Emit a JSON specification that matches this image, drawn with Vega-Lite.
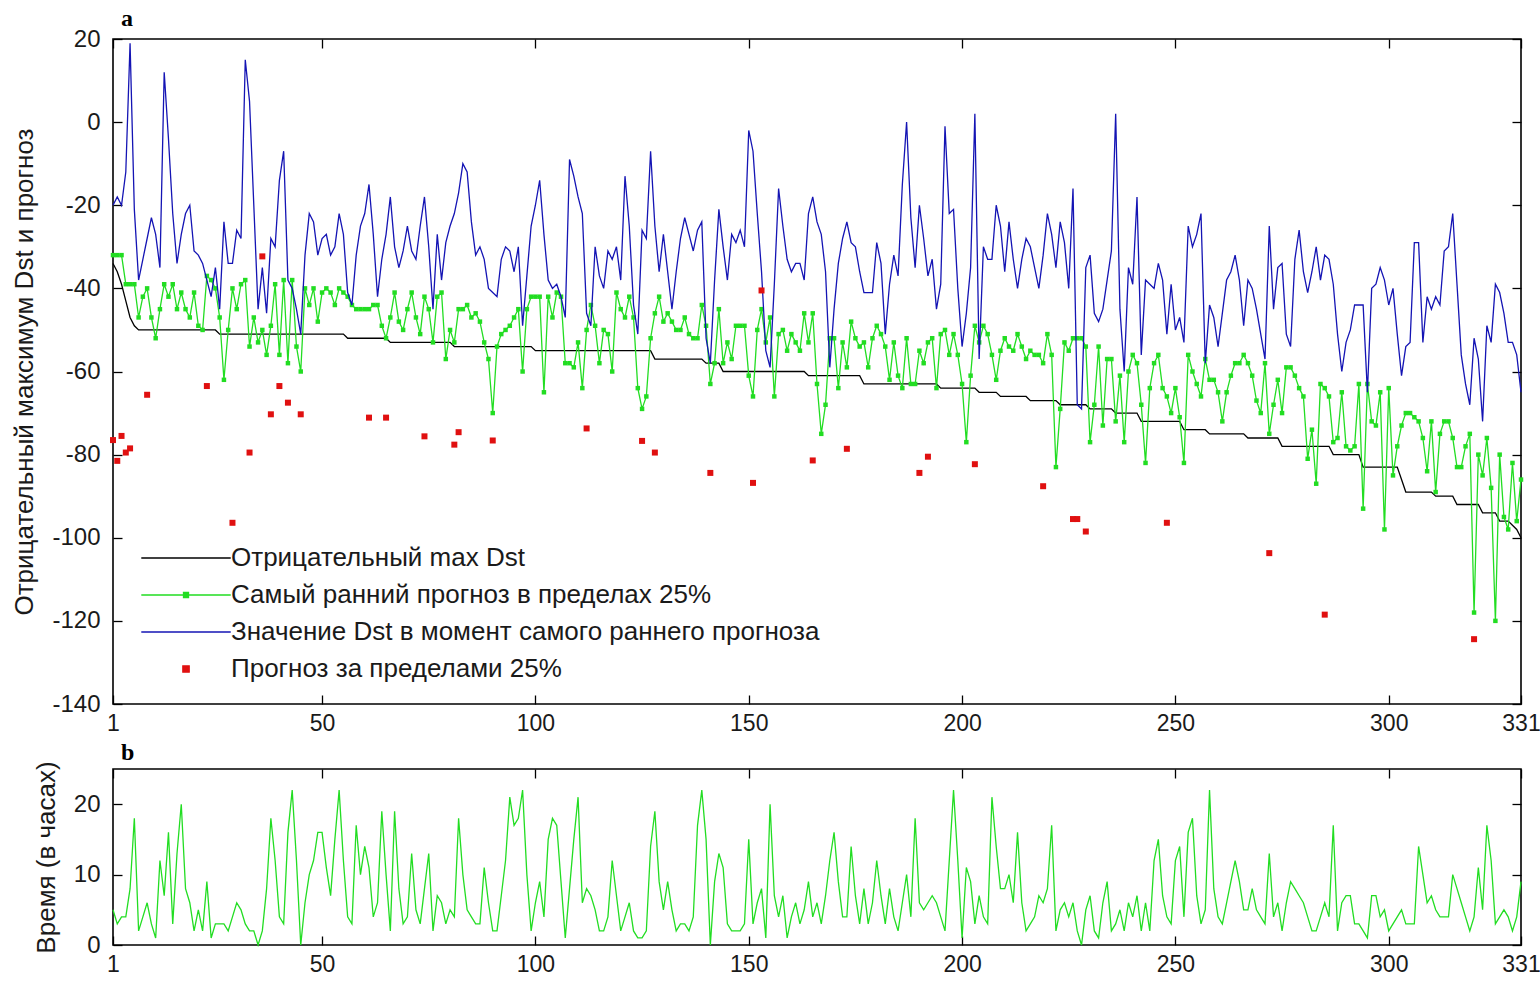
{
"$schema": "https://vega.github.io/schema/vega-lite/v6.json",
"background": "#ffffff",
"padding": {"left": 11, "top": 6, "right": 10, "bottom": 0},
"spacing": 4,
"resolve": {"scale": {"color": "independent"}, "legend": {"color": "independent"}},
"config": {
  "font": "Liberation Sans",
  "view": {"stroke": "#000000", "strokeWidth": 1.6},
  "axis": {"grid": false, "domain": false, "ticks": true, "tickSize": -9, "tickColor": "#000000", "tickWidth": 1.3, "labelFont": "Liberation Sans", "labelFontSize": 24, "labelColor": "#1a1a1a", "labelPadding": 22, "labelFlush": false, "labelOverlap": false, "titleFont": "Liberation Sans", "titleFontSize": 26, "titleFontWeight": "normal", "titleColor": "#1a1a1a", "titlePadding": 14},
  "axisX": {"labelPadding": 17, "labelFontSize": 23},
  "title": {"font": "Liberation Serif", "fontSize": 24, "fontWeight": "bold", "anchor": "start", "frame": "group", "offset": -4, "color": "#000000"}
},
"datasets": {
"main": [
{"i":1,"k":-34,"g":-32,"b":-20,"h":5},{"i":2,"k":-36,"g":-32,"b":-18,"h":3},{"i":3,"k":-39,"g":-32,"b":-20,"h":4},{"i":4,"k":-43,"g":-39,"b":-12,"h":4},{"i":5,"k":-47,"g":-39,"b":19,"h":8},{"i":6,"k":-49,"g":-39,"b":-21,"h":18},{"i":7,"k":-50,"g":-47,"b":-38,"h":2},{"i":8,"k":-50,"g":-42,"b":-33,"h":4},{"i":9,"k":-50,"g":-40,"b":-28,"h":6},{"i":10,"k":-50,"g":-47,"b":-23,"h":3},
{"i":11,"k":-50,"g":-52,"b":-27,"h":1},{"i":12,"k":-50,"g":-45,"b":-35,"h":12},{"i":13,"k":-50,"g":-39,"b":12,"h":7},{"i":14,"k":-50,"g":-42,"b":-4,"h":16},{"i":15,"k":-50,"g":-39,"b":-22,"h":3},{"i":16,"k":-50,"g":-45,"b":-34,"h":13},{"i":17,"k":-50,"g":-41,"b":-27,"h":20},{"i":18,"k":-50,"g":-45,"b":-22,"h":8},{"i":19,"k":-50,"g":-47,"b":-20,"h":6},{"i":20,"k":-50,"g":-41,"b":-31,"h":2},
{"i":21,"k":-50,"g":-49,"b":-32,"h":5},{"i":22,"k":-50,"g":-50,"b":-34,"h":2},{"i":23,"k":-50,"g":-37,"b":-38,"h":9},{"i":24,"k":-50,"g":-38,"b":-42,"h":1},{"i":25,"k":-50,"g":-40,"b":-35,"h":3},{"i":26,"k":-51,"g":-47,"b":-45,"h":3},{"i":27,"k":-51,"g":-62,"b":-24,"h":3},{"i":28,"k":-51,"g":-50,"b":-34,"h":2},{"i":29,"k":-51,"g":-40,"b":-34,"h":4},{"i":30,"k":-51,"g":-45,"b":-26,"h":6},
{"i":31,"k":-51,"g":-39,"b":-28,"h":5},{"i":32,"k":-51,"g":-38,"b":15,"h":3},{"i":33,"k":-51,"g":-54,"b":5,"h":2},{"i":34,"k":-51,"g":-47,"b":-20,"h":2},{"i":35,"k":-51,"g":-53,"b":-45,"h":0},{"i":36,"k":-51,"g":-50,"b":-35,"h":2},{"i":37,"k":-51,"g":-56,"b":-46,"h":8},{"i":38,"k":-51,"g":-49,"b":-28,"h":18},{"i":39,"k":-51,"g":-39,"b":-30,"h":12},{"i":40,"k":-51,"g":-56,"b":-14,"h":4},
{"i":41,"k":-51,"g":-38,"b":-7,"h":3},{"i":42,"k":-51,"g":-58,"b":-38,"h":16},{"i":43,"k":-51,"g":-38,"b":-40,"h":22},{"i":44,"k":-51,"g":-54,"b":-45,"h":12},{"i":45,"k":-51,"g":-60,"b":-51,"h":0},{"i":46,"k":-51,"g":-40,"b":-32,"h":6},{"i":47,"k":-51,"g":-44,"b":-22,"h":10},{"i":48,"k":-51,"g":-40,"b":-24,"h":12},{"i":49,"k":-51,"g":-48,"b":-32,"h":16},{"i":50,"k":-51,"g":-41,"b":-28,"h":16},
{"i":51,"k":-51,"g":-40,"b":-27,"h":11},{"i":52,"k":-51,"g":-41,"b":-32,"h":7},{"i":53,"k":-51,"g":-44,"b":-30,"h":15},{"i":54,"k":-51,"g":-40,"b":-22,"h":22},{"i":55,"k":-51,"g":-41,"b":-27,"h":12},{"i":56,"k":-52,"g":-42,"b":-41,"h":4},{"i":57,"k":-52,"g":-44,"b":-44,"h":3},{"i":58,"k":-52,"g":-45,"b":-32,"h":17},{"i":59,"k":-52,"g":-45,"b":-25,"h":10},{"i":60,"k":-52,"g":-45,"b":-22,"h":14},
{"i":61,"k":-52,"g":-45,"b":-15,"h":11},{"i":62,"k":-52,"g":-44,"b":-27,"h":4},{"i":63,"k":-52,"g":-44,"b":-42,"h":6},{"i":64,"k":-52,"g":-49,"b":-33,"h":19},{"i":65,"k":-52,"g":-52,"b":-27,"h":10},{"i":66,"k":-53,"g":-47,"b":-18,"h":2},{"i":67,"k":-53,"g":-41,"b":-30,"h":19},{"i":68,"k":-53,"g":-48,"b":-35,"h":8},{"i":69,"k":-53,"g":-50,"b":-31,"h":3},{"i":70,"k":-53,"g":-45,"b":-25,"h":4},
{"i":71,"k":-53,"g":-41,"b":-31,"h":13},{"i":72,"k":-53,"g":-47,"b":-33,"h":5},{"i":73,"k":-53,"g":-51,"b":-25,"h":3},{"i":74,"k":-53,"g":-42,"b":-18,"h":8},{"i":75,"k":-53,"g":-45,"b":-30,"h":13},{"i":76,"k":-53,"g":-53,"b":-45,"h":2},{"i":77,"k":-53,"g":-42,"b":-27,"h":7},{"i":78,"k":-53,"g":-41,"b":-38,"h":6},{"i":79,"k":-53,"g":-57,"b":-29,"h":3},{"i":80,"k":-53,"g":-50,"b":-25,"h":5},
{"i":81,"k":-54,"g":-53,"b":-22,"h":4},{"i":82,"k":-54,"g":-45,"b":-17,"h":18},{"i":83,"k":-54,"g":-45,"b":-10,"h":10},{"i":84,"k":-54,"g":-44,"b":-12,"h":5},{"i":85,"k":-54,"g":-47,"b":-24,"h":4},{"i":86,"k":-54,"g":-46,"b":-32,"h":3},{"i":87,"k":-54,"g":-48,"b":-30,"h":3},{"i":88,"k":-54,"g":-53,"b":-33,"h":11},{"i":89,"k":-54,"g":-57,"b":-40,"h":6},{"i":90,"k":-54,"g":-70,"b":-41,"h":2},
{"i":91,"k":-54,"g":-54,"b":-42,"h":2},{"i":92,"k":-54,"g":-51,"b":-33,"h":7},{"i":93,"k":-54,"g":-50,"b":-30,"h":12},{"i":94,"k":-54,"g":-49,"b":-31,"h":21},{"i":95,"k":-54,"g":-47,"b":-36,"h":17},{"i":96,"k":-54,"g":-45,"b":-30,"h":18},{"i":97,"k":-54,"g":-60,"b":-49,"h":22},{"i":98,"k":-54,"g":-45,"b":-37,"h":10},{"i":99,"k":-54,"g":-42,"b":-25,"h":2},{"i":100,"k":-55,"g":-42,"b":-20,"h":6},
{"i":101,"k":-55,"g":-42,"b":-14,"h":9},{"i":102,"k":-55,"g":-65,"b":-27,"h":4},{"i":103,"k":-55,"g":-42,"b":-38,"h":15},{"i":104,"k":-55,"g":-47,"b":-40,"h":18},{"i":105,"k":-55,"g":-41,"b":-39,"h":17},{"i":106,"k":-55,"g":-42,"b":-42,"h":9},{"i":107,"k":-55,"g":-58,"b":-47,"h":1},{"i":108,"k":-55,"g":-58,"b":-9,"h":8},{"i":109,"k":-55,"g":-59,"b":-13,"h":15},{"i":110,"k":-55,"g":-53,"b":-18,"h":21},
{"i":111,"k":-55,"g":-64,"b":-22,"h":6},{"i":112,"k":-55,"g":-50,"b":-46,"h":8},{"i":113,"k":-55,"g":-44,"b":-49,"h":7},{"i":114,"k":-55,"g":-49,"b":-30,"h":5},{"i":115,"k":-55,"g":-58,"b":-37,"h":2},{"i":116,"k":-55,"g":-50,"b":-40,"h":2},{"i":117,"k":-55,"g":-51,"b":-31,"h":4},{"i":118,"k":-55,"g":-60,"b":-33,"h":12},{"i":119,"k":-55,"g":-41,"b":-30,"h":7},{"i":120,"k":-55,"g":-45,"b":-38,"h":2},
{"i":121,"k":-55,"g":-47,"b":-13,"h":4},{"i":122,"k":-55,"g":-42,"b":-25,"h":6},{"i":123,"k":-55,"g":-47,"b":-44,"h":2},{"i":124,"k":-55,"g":-64,"b":-51,"h":1},{"i":125,"k":-55,"g":-69,"b":-26,"h":1},{"i":126,"k":-55,"g":-66,"b":-28,"h":2},{"i":127,"k":-55,"g":-52,"b":-7,"h":14},{"i":128,"k":-57,"g":-46,"b":-25,"h":19},{"i":129,"k":-57,"g":-42,"b":-36,"h":9},{"i":130,"k":-57,"g":-48,"b":-27,"h":5},
{"i":131,"k":-57,"g":-46,"b":-36,"h":9},{"i":132,"k":-57,"g":-48,"b":-45,"h":5},{"i":133,"k":-57,"g":-50,"b":-36,"h":2},{"i":134,"k":-57,"g":-50,"b":-28,"h":3},{"i":135,"k":-57,"g":-47,"b":-23,"h":3},{"i":136,"k":-57,"g":-51,"b":-27,"h":2},{"i":137,"k":-57,"g":-52,"b":-31,"h":4},{"i":138,"k":-57,"g":-52,"b":-26,"h":17},{"i":139,"k":-57,"g":-44,"b":-24,"h":22},{"i":140,"k":-58,"g":-49,"b":-52,"h":15},
{"i":141,"k":-58,"g":-63,"b":-58,"h":0},{"i":142,"k":-58,"g":-58,"b":-38,"h":9},{"i":143,"k":-58,"g":-45,"b":-21,"h":13},{"i":144,"k":-60,"g":-58,"b":-30,"h":11},{"i":145,"k":-60,"g":-53,"b":-38,"h":3},{"i":146,"k":-60,"g":-57,"b":-27,"h":2},{"i":147,"k":-60,"g":-49,"b":-29,"h":2},{"i":148,"k":-60,"g":-49,"b":-26,"h":2},{"i":149,"k":-60,"g":-49,"b":-30,"h":3},{"i":150,"k":-60,"g":-61,"b":-2,"h":15},
{"i":151,"k":-60,"g":-66,"b":-7,"h":3},{"i":152,"k":-60,"g":-50,"b":-22,"h":6},{"i":153,"k":-60,"g":-45,"b":-36,"h":8},{"i":154,"k":-60,"g":-53,"b":-55,"h":1},{"i":155,"k":-60,"g":-47,"b":-59,"h":20},{"i":156,"k":-60,"g":-66,"b":-39,"h":7},{"i":157,"k":-60,"g":-51,"b":-16,"h":4},{"i":158,"k":-60,"g":-50,"b":-25,"h":7},{"i":159,"k":-60,"g":-55,"b":-33,"h":1},{"i":160,"k":-60,"g":-51,"b":-36,"h":4},
{"i":161,"k":-60,"g":-53,"b":-34,"h":6},{"i":162,"k":-60,"g":-55,"b":-34,"h":3},{"i":163,"k":-60,"g":-46,"b":-38,"h":5},{"i":164,"k":-61,"g":-53,"b":-22,"h":9},{"i":165,"k":-61,"g":-46,"b":-18,"h":4},{"i":166,"k":-61,"g":-63,"b":-24,"h":6},{"i":167,"k":-61,"g":-75,"b":-27,"h":3},{"i":168,"k":-61,"g":-68,"b":-36,"h":7},{"i":169,"k":-61,"g":-52,"b":-59,"h":12},{"i":170,"k":-61,"g":-52,"b":-45,"h":16},
{"i":171,"k":-61,"g":-64,"b":-34,"h":9},{"i":172,"k":-61,"g":-53,"b":-28,"h":4},{"i":173,"k":-61,"g":-59,"b":-24,"h":4},{"i":174,"k":-61,"g":-48,"b":-29,"h":14},{"i":175,"k":-61,"g":-52,"b":-30,"h":7},{"i":176,"k":-61,"g":-54,"b":-36,"h":3},{"i":177,"k":-63,"g":-53,"b":-41,"h":8},{"i":178,"k":-63,"g":-59,"b":-41,"h":3},{"i":179,"k":-63,"g":-52,"b":-41,"h":6},{"i":180,"k":-63,"g":-49,"b":-29,"h":12},
{"i":181,"k":-63,"g":-51,"b":-34,"h":7},{"i":182,"k":-63,"g":-54,"b":-51,"h":3},{"i":183,"k":-63,"g":-62,"b":-39,"h":8},{"i":184,"k":-63,"g":-53,"b":-32,"h":4},{"i":185,"k":-63,"g":-61,"b":-37,"h":2},{"i":186,"k":-63,"g":-64,"b":-15,"h":6},{"i":187,"k":-63,"g":-52,"b":0,"h":10},{"i":188,"k":-63,"g":-63,"b":-23,"h":4},{"i":189,"k":-63,"g":-63,"b":-35,"h":18},{"i":190,"k":-63,"g":-55,"b":-20,"h":6},
{"i":191,"k":-63,"g":-58,"b":-28,"h":5},{"i":192,"k":-63,"g":-53,"b":-37,"h":6},{"i":193,"k":-63,"g":-52,"b":-33,"h":7},{"i":194,"k":-63,"g":-64,"b":-45,"h":6},{"i":195,"k":-64,"g":-51,"b":-39,"h":4},{"i":196,"k":-64,"g":-50,"b":-1,"h":2},{"i":197,"k":-64,"g":-56,"b":-22,"h":12},{"i":198,"k":-64,"g":-51,"b":-21,"h":22},{"i":199,"k":-64,"g":-56,"b":-40,"h":12},{"i":200,"k":-64,"g":-63,"b":-54,"h":1},
{"i":201,"k":-64,"g":-77,"b":-46,"h":11},{"i":202,"k":-64,"g":-61,"b":-35,"h":9},{"i":203,"k":-64,"g":-49,"b":2,"h":3},{"i":204,"k":-65,"g":-53,"b":-57,"h":7},{"i":205,"k":-65,"g":-49,"b":-30,"h":4},{"i":206,"k":-65,"g":-51,"b":-33,"h":3},{"i":207,"k":-65,"g":-56,"b":-33,"h":21},{"i":208,"k":-65,"g":-62,"b":-20,"h":14},{"i":209,"k":-66,"g":-55,"b":-25,"h":8},{"i":210,"k":-66,"g":-52,"b":-36,"h":8},
{"i":211,"k":-66,"g":-54,"b":-24,"h":10},{"i":212,"k":-66,"g":-55,"b":-33,"h":6},{"i":213,"k":-66,"g":-51,"b":-40,"h":16},{"i":214,"k":-66,"g":-54,"b":-33,"h":6},{"i":215,"k":-66,"g":-57,"b":-28,"h":2},{"i":216,"k":-67,"g":-55,"b":-30,"h":3},{"i":217,"k":-67,"g":-56,"b":-35,"h":4},{"i":218,"k":-67,"g":-56,"b":-40,"h":7},{"i":219,"k":-67,"g":-58,"b":-32,"h":6},{"i":220,"k":-67,"g":-51,"b":-22,"h":8},
{"i":221,"k":-67,"g":-56,"b":-27,"h":17},{"i":222,"k":-67,"g":-83,"b":-35,"h":2},{"i":223,"k":-68,"g":-69,"b":-24,"h":5},{"i":224,"k":-68,"g":-53,"b":-29,"h":6},{"i":225,"k":-68,"g":-55,"b":-40,"h":4},{"i":226,"k":-68,"g":-52,"b":-16,"h":6},{"i":227,"k":-68,"g":-52,"b":-68,"h":2},{"i":228,"k":-68,"g":-52,"b":-69,"h":0},{"i":229,"k":-68,"g":-54,"b":-35,"h":5},{"i":230,"k":-69,"g":-77,"b":-32,"h":7},
{"i":231,"k":-69,"g":-68,"b":-46,"h":2},{"i":232,"k":-69,"g":-54,"b":-48,"h":1},{"i":233,"k":-69,"g":-73,"b":-45,"h":6},{"i":234,"k":-69,"g":-57,"b":-38,"h":9},{"i":235,"k":-69,"g":-57,"b":-31,"h":2},{"i":236,"k":-70,"g":-72,"b":2,"h":3},{"i":237,"k":-70,"g":-61,"b":-45,"h":5},{"i":238,"k":-70,"g":-77,"b":-60,"h":2},{"i":239,"k":-70,"g":-60,"b":-35,"h":6},{"i":240,"k":-70,"g":-56,"b":-39,"h":4},
{"i":241,"k":-70,"g":-58,"b":-18,"h":7},{"i":242,"k":-72,"g":-68,"b":-56,"h":2},{"i":243,"k":-72,"g":-82,"b":-38,"h":6},{"i":244,"k":-72,"g":-64,"b":-39,"h":2},{"i":245,"k":-72,"g":-58,"b":-40,"h":12},{"i":246,"k":-72,"g":-56,"b":-34,"h":15},{"i":247,"k":-72,"g":-64,"b":-38,"h":7},{"i":248,"k":-72,"g":-66,"b":-51,"h":4},{"i":249,"k":-72,"g":-70,"b":-39,"h":3},{"i":250,"k":-72,"g":-64,"b":-50,"h":12},
{"i":251,"k":-72,"g":-71,"b":-47,"h":14},{"i":252,"k":-74,"g":-82,"b":-53,"h":4},{"i":253,"k":-74,"g":-56,"b":-25,"h":16},{"i":254,"k":-74,"g":-60,"b":-30,"h":18},{"i":255,"k":-74,"g":-63,"b":-27,"h":7},{"i":256,"k":-74,"g":-66,"b":-22,"h":3},{"i":257,"k":-74,"g":-57,"b":-58,"h":5},{"i":258,"k":-75,"g":-62,"b":-44,"h":22},{"i":259,"k":-75,"g":-62,"b":-47,"h":8},{"i":260,"k":-75,"g":-65,"b":-54,"h":4},
{"i":261,"k":-75,"g":-72,"b":-46,"h":3},{"i":262,"k":-75,"g":-65,"b":-38,"h":6},{"i":263,"k":-75,"g":-61,"b":-36,"h":9},{"i":264,"k":-75,"g":-58,"b":-32,"h":12},{"i":265,"k":-75,"g":-58,"b":-38,"h":9},{"i":266,"k":-75,"g":-56,"b":-49,"h":5},{"i":267,"k":-76,"g":-58,"b":-38,"h":5},{"i":268,"k":-76,"g":-61,"b":-40,"h":8},{"i":269,"k":-76,"g":-67,"b":-45,"h":5},{"i":270,"k":-76,"g":-70,"b":-51,"h":4},
{"i":271,"k":-76,"g":-58,"b":-57,"h":3},{"i":272,"k":-76,"g":-75,"b":-25,"h":13},{"i":273,"k":-76,"g":-68,"b":-45,"h":4},{"i":274,"k":-76,"g":-62,"b":-35,"h":6},{"i":275,"k":-78,"g":-70,"b":-34,"h":2},{"i":276,"k":-78,"g":-59,"b":-51,"h":6},{"i":277,"k":-78,"g":-59,"b":-54,"h":9},{"i":278,"k":-78,"g":-61,"b":-33,"h":8},{"i":279,"k":-78,"g":-64,"b":-26,"h":7},{"i":280,"k":-78,"g":-66,"b":-36,"h":6},
{"i":281,"k":-78,"g":-81,"b":-41,"h":4},{"i":282,"k":-78,"g":-74,"b":-36,"h":2},{"i":283,"k":-78,"g":-87,"b":-30,"h":2},{"i":284,"k":-78,"g":-63,"b":-38,"h":4},{"i":285,"k":-78,"g":-64,"b":-32,"h":6},{"i":286,"k":-78,"g":-66,"b":-33,"h":4},{"i":287,"k":-80,"g":-77,"b":-39,"h":17},{"i":288,"k":-80,"g":-76,"b":-51,"h":2},{"i":289,"k":-80,"g":-65,"b":-60,"h":6},{"i":290,"k":-80,"g":-78,"b":-53,"h":7},
{"i":291,"k":-80,"g":-79,"b":-50,"h":7},{"i":292,"k":-80,"g":-78,"b":-44,"h":3},{"i":293,"k":-80,"g":-63,"b":-44,"h":3},{"i":294,"k":-83,"g":-93,"b":-44,"h":2},{"i":295,"k":-83,"g":-63,"b":-65,"h":1},{"i":296,"k":-83,"g":-72,"b":-40,"h":7},{"i":297,"k":-83,"g":-73,"b":-39,"h":7},{"i":298,"k":-83,"g":-65,"b":-35,"h":4},{"i":299,"k":-83,"g":-98,"b":-38,"h":5},{"i":300,"k":-83,"g":-64,"b":-44,"h":2},
{"i":301,"k":-83,"g":-85,"b":-40,"h":3},{"i":302,"k":-83,"g":-78,"b":-51,"h":4},{"i":303,"k":-86,"g":-73,"b":-61,"h":5},{"i":304,"k":-89,"g":-70,"b":-54,"h":3},{"i":305,"k":-89,"g":-70,"b":-53,"h":3},{"i":306,"k":-89,"g":-71,"b":-29,"h":3},{"i":307,"k":-89,"g":-72,"b":-29,"h":14},{"i":308,"k":-89,"g":-76,"b":-53,"h":10},{"i":309,"k":-89,"g":-84,"b":-42,"h":6},{"i":310,"k":-89,"g":-72,"b":-45,"h":7},
{"i":311,"k":-90,"g":-89,"b":-42,"h":5},{"i":312,"k":-90,"g":-75,"b":-44,"h":4},{"i":313,"k":-90,"g":-72,"b":-31,"h":4},{"i":314,"k":-90,"g":-72,"b":-30,"h":4},{"i":315,"k":-90,"g":-76,"b":-22,"h":10},{"i":316,"k":-92,"g":-83,"b":-39,"h":8},{"i":317,"k":-92,"g":-83,"b":-56,"h":6},{"i":318,"k":-92,"g":-78,"b":-63,"h":4},{"i":319,"k":-92,"g":-75,"b":-68,"h":2},{"i":320,"k":-92,"g":-118,"b":-52,"h":4},
{"i":321,"k":-92,"g":-80,"b":-57,"h":11},{"i":322,"k":-94,"g":-85,"b":-72,"h":5},{"i":323,"k":-94,"g":-76,"b":-49,"h":17},{"i":324,"k":-94,"g":-88,"b":-53,"h":12},{"i":325,"k":-94,"g":-120,"b":-39,"h":3},{"i":326,"k":-96,"g":-80,"b":-41,"h":4},{"i":327,"k":-96,"g":-95,"b":-46,"h":5},{"i":328,"k":-96,"g":-98,"b":-53,"h":4},{"i":329,"k":-97,"g":-82,"b":-53,"h":2},{"i":330,"k":-98,"g":-96,"b":-56,"h":4},
{"i":331,"k":-100,"g":-86,"b":-65,"h":9}
],
"red": [
{"i":1,"r":-76.5},{"i":2,"r":-81.5},{"i":3,"r":-75.5},{"i":4,"r":-79.5},{"i":5,"r":-78.5},{"i":9,"r":-65.6},{"i":23,"r":-63.5},{"i":29,"r":-96.4},{"i":33,"r":-79.5},{"i":36,"r":-32.3},{"i":38,"r":-70.3},{"i":40,"r":-63.5},{"i":42,"r":-67.5},{"i":45,"r":-70.3},{"i":61,"r":-71.1},{"i":65,"r":-71.1},{"i":74,"r":-75.6},{"i":81,"r":-77.6},{"i":82,"r":-74.6},{"i":90,"r":-76.6},{"i":112,"r":-73.7},{"i":125,"r":-76.7},{"i":128,"r":-79.5},{"i":141,"r":-84.4},{"i":151,"r":-86.8},{"i":153,"r":-40.5},{"i":165,"r":-81.4},{"i":173,"r":-78.6},{"i":190,"r":-84.4},{"i":192,"r":-80.5},{"i":203,"r":-82.3},{"i":219,"r":-87.6},{"i":226,"r":-95.5},{"i":227,"r":-95.5},{"i":229,"r":-98.5},{"i":248,"r":-96.4},{"i":272,"r":-103.7},{"i":285,"r":-118.5},{"i":320,"r":-124.4}
]
},
"vconcat": [
{
  "title": {"text": "a", "dx": 8},
  "width": 1408, "height": 665,
  "layer": [
    {"layer": [
      {"data": {"name": "main"}, "mark": {"type": "line", "strokeWidth": 1.3},
       "encoding": {
         "x": {"field": "i", "type": "quantitative", "scale": {"domain": [1, 331], "nice": false, "zero": false}, "axis": {"title": null, "values": [1, 50, 100, 150, 200, 250, 300, 331]}},
         "y": {"field": "k", "type": "quantitative", "scale": {"domain": [-140, 20], "nice": false, "zero": false}, "axis": {"title": "Отрицательный максимум Dst и прогноз", "values": [-140, -120, -100, -80, -60, -40, -20, 0, 20], "labelExpr": "datum.value < 0 ? '-' + abs(datum.value) : '' + datum.value"}},
         "color": {"datum": "Отрицательный max Dst", "type": "nominal",
           "scale": {"domain": ["Отрицательный max Dst", "Самый ранний прогноз в пределах 25%", "Значение Dst в момент самого раннего прогноза", "Прогноз за пределами 25%"], "range": ["#000000", "#22dd22", "#1414b4", "#e01010"]},
           "legend": {"title": null, "orient": "bottom-left", "offset": 22, "direction": "vertical", "labelFont": "Liberation Sans", "labelFontSize": 26, "labelColor": "#1a1a1a", "labelLimit": 900, "labelOffset": 70, "symbolSize": 500, "rowPadding": 11, "symbolStrokeWidth": 1.4, "padding": 0,
             "encode": {"symbols": {"update": {
               "shape": {"signal": "datum.index == 3 ? 'M3.12,-0.28L3.68,-0.28L3.68,0.28L3.12,0.28Z' : datum.index == 1 ? 'M-0.6,0L7.4,0M3.18,-0.22L3.62,-0.22L3.62,0.22L3.18,0.22Z' : 'M-0.6,0L7.4,0'"},
               "fill": {"signal": "datum.index == 1 ? '#22dd22' : datum.index == 3 ? '#e01010' : 'transparent'"},
               "stroke": {"signal": "['#000000', '#22dd22', '#1414b4', '#e01010'][datum.index]"},
               "opacity": {"value": 1}
             }}}}}
       }},
      {"data": {"name": "main"}, "mark": {"type": "line", "strokeWidth": 1.3},
       "encoding": {
         "x": {"field": "i", "type": "quantitative"},
         "y": {"field": "g", "type": "quantitative"},
         "color": {"datum": "Самый ранний прогноз в пределах 25%", "type": "nominal"}
       }},
      {"data": {"name": "main"}, "mark": {"type": "square", "size": 20, "filled": true, "opacity": 1},
       "encoding": {
         "x": {"field": "i", "type": "quantitative"},
         "y": {"field": "g", "type": "quantitative"},
         "color": {"datum": "Самый ранний прогноз в пределах 25%", "type": "nominal"}
       }},
      {"data": {"name": "main"}, "mark": {"type": "line", "strokeWidth": 1.3},
       "encoding": {
         "x": {"field": "i", "type": "quantitative"},
         "y": {"field": "b", "type": "quantitative"},
         "color": {"datum": "Значение Dst в момент самого раннего прогноза", "type": "nominal"}
       }},
      {"data": {"name": "red"}, "mark": {"type": "square", "size": 36, "filled": true, "opacity": 1},
       "encoding": {
         "x": {"field": "i", "type": "quantitative"},
         "y": {"field": "r", "type": "quantitative"},
         "color": {"datum": "Прогноз за пределами 25%", "type": "nominal"}
       }}
    ]},
    {"data": {"name": "main"}, "mark": {"type": "point", "opacity": 0},
     "encoding": {
       "x": {"field": "i", "type": "quantitative", "scale": {"domain": [1, 331], "nice": false, "zero": false}, "axis": {"orient": "top", "labels": false, "title": null, "values": [1, 50, 100, 150, 200, 250, 300, 331], "minExtent": 0}},
       "y": {"field": "g", "type": "quantitative", "scale": {"domain": [-140, 20], "nice": false, "zero": false}, "axis": {"orient": "right", "labels": false, "title": null, "values": [-140, -120, -100, -80, -60, -40, -20, 0, 20], "minExtent": 0}}
     }}
  ],
  "resolve": {"scale": {"x": "independent", "y": "independent"}}
},
{
  "title": {"text": "b", "dx": 8},
  "width": 1408, "height": 176,
  "layer": [
    {"data": {"name": "main"}, "mark": {"type": "line", "color": "#22dd22", "strokeWidth": 1.3},
     "encoding": {
       "x": {"field": "i", "type": "quantitative", "scale": {"domain": [1, 331], "nice": false, "zero": false}, "axis": {"title": null, "values": [1, 50, 100, 150, 200, 250, 300, 331]}},
       "y": {"field": "h", "type": "quantitative", "scale": {"domain": [0, 25], "nice": false}, "axis": {"title": "Время (в часах)", "values": [0, 10, 20]}}
     }},
    {"data": {"name": "main"}, "mark": {"type": "point", "opacity": 0},
     "encoding": {
       "x": {"field": "i", "type": "quantitative", "scale": {"domain": [1, 331], "nice": false, "zero": false}, "axis": {"orient": "top", "labels": false, "title": null, "values": [1, 50, 100, 150, 200, 250, 300, 331], "minExtent": 0}},
       "y": {"field": "h", "type": "quantitative", "scale": {"domain": [0, 25], "nice": false}, "axis": {"orient": "right", "labels": false, "title": null, "values": [0, 10, 20], "minExtent": 0}}
     }}
  ],
  "resolve": {"scale": {"x": "independent", "y": "independent"}}
}
]
}
